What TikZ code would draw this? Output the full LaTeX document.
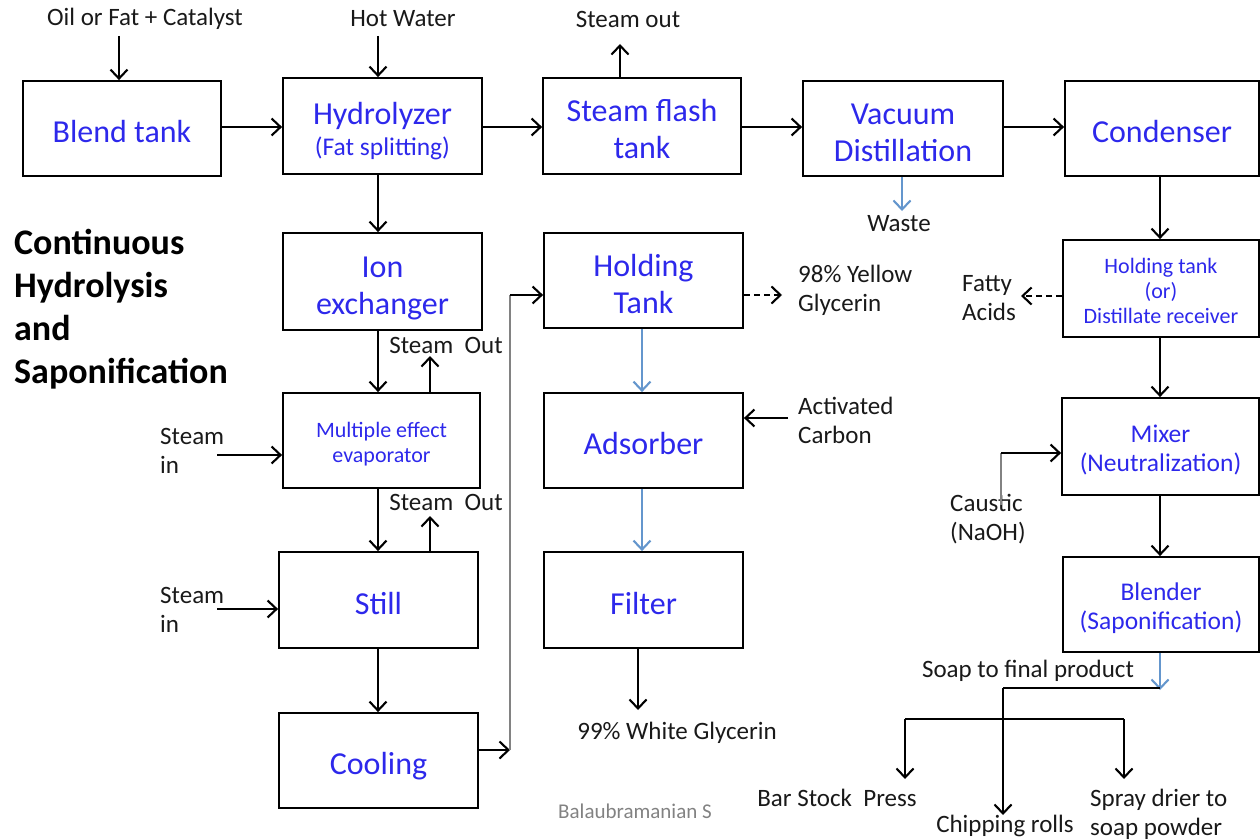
\documentclass[tikz,border=0pt]{standalone}
\usepackage{fontspec}
\setmainfont{Carlito}
\usetikzlibrary{arrows.meta}
\definecolor{bxblue}{RGB}{45,40,235}
\definecolor{lbl}{RGB}{25,25,25}
\definecolor{flowblue}{RGB}{100,150,205}
\definecolor{thingray}{RGB}{130,130,130}
\newcommand{\bxf}{\fontsize{32}{37}\selectfont}
\newcommand{\bxs}{\fontsize{22}{25}\selectfont}
\newcommand{\bxm}{\fontsize{25.5}{29}\selectfont}
\newcommand{\lbf}{\fontsize{25}{29}\selectfont}
\newcommand{\bt}[2][-7pt]{\raisebox{#1}[\height][\depth]{\begin{tabular}{@{}c@{}}#2\end{tabular}}}
\tikzset{
  box/.style={draw, line width=1.8pt, inner sep=0pt, text=bxblue, font=\bxf},
  lab/.style={inner sep=0pt, text=lbl, font=\lbf},
  labl/.style={lab, align=left, anchor=west},
  arr/.style={line width=2.1pt, -{Straight Barb[length=9pt,width=17pt]}},
  barr/.style={line width=2.1pt, draw=flowblue, -{Straight Barb[length=9pt,width=17pt]}},
  darr/.style={arr, dashed, dash pattern=on 6pt off 4pt},
  gline/.style={line width=1.5pt, draw=thingray}
}
\begin{document}
\begin{tikzpicture}[x=1pt,y=-1pt]
\useasboundingbox (0,0) rectangle (1260,840);
% boxes
\node[box, minimum width=198pt, minimum height=95pt] (blend) at (122,128.5) {\bt{Blend tank}};
\node[box, minimum width=199pt, minimum height=96pt] (hydro) at (382.5,126) {\bt{Hydrolyzer\\[-6pt]{\fontsize{25.5}{30}\selectfont (Fat splitting)}}};
\node[box, minimum width=198pt, minimum height=96pt] (flash) at (642,126) {\bt{Steam flash\\tank}};
\node[box, minimum width=200pt, minimum height=95pt] (vac) at (903,128.5) {\bt{Vacuum\\Distillation}};
\node[box, minimum width=194pt, minimum height=95pt] (cond) at (1162,128.5) {\bt{Condenser}};
\node[box, minimum width=199pt, minimum height=97pt] (ion) at (382.5,281.5) {\bt{Ion\\exchanger}};
\node[box, minimum width=199pt, minimum height=95pt] (hold) at (643.5,280.5) {\bt{Holding\\Tank}};
\node[box, minimum width=196pt, minimum height=97pt, font=\bxs] (dist) at (1161,288.5) {\bt[-4.5pt]{Holding tank\\(or)\\Distillate receiver}};
\node[box, minimum width=197pt, minimum height=95pt, font=\bxs] (mee) at (381.5,440.5) {\bt[-4.5pt]{Multiple effect\\evaporator}};
\node[box, minimum width=199pt, minimum height=95pt] (ads) at (643.5,440.5) {\bt{Adsorber}};
\node[box, minimum width=197pt, minimum height=97pt, font=\bxm] (mix) at (1160.5,446.5) {\bt[-5pt]{Mixer\\(Neutralization)}};
\node[box, minimum width=199pt, minimum height=96pt] (still) at (378.5,600) {\bt{Still}};
\node[box, minimum width=199pt, minimum height=96pt] (filter) at (643.5,600) {\bt{Filter}};
\node[box, minimum width=196pt, minimum height=95pt, font=\bxm] (blender) at (1161,604.5) {\bt[-5pt]{Blender\\(Saponification)}};
\node[box, minimum width=199pt, minimum height=95pt] (cool) at (378.5,760.5) {\bt{Cooling}};
% labels
\node[lab] (oil) at (145,19) {Oil or Fat + Catalyst};
\node[lab] (hot) at (403,19) {Hot Water};
\node[lab] (sout) at (628,19) {Steam out};
\node[lab] (waste) at (899,224) {Waste};
\node[lab] (so1) at (446,345) {Steam\ \ Out};
\node[lab] (so2) at (446,502) {Steam\ \ Out};
\node[labl] (si1) at (160,451) {Steam\\in};
\node[labl] (si2) at (160,610) {Steam\\in};
\node[labl] (yel) at (798,290) {98\% Yellow\\Glycerin};
\node[labl] (carb) at (798,420) {Activated\\Carbon};
\node[lab] (white) at (677,733) {99\% White Glycerin};
\node[inner sep=0pt, text=thingray, font=\fontsize{21}{24}\selectfont] (auth) at (635,811) {Balaubramanian S};
\node[labl] (fatty) at (962,298) {Fatty\\Acids};
\node[labl] (caus) at (950,519) {Caustic\\(NaOH)};
\node[lab] (soap) at (1028,671) {Soap to final product};
\node[lab] (bar) at (837,798) {Bar Stock\ \ Press};
\node[lab] (chip) at (1005,826) {Chipping rolls};
\node[labl] (spray) at (1090,814) {Spray drier to\\soap powder};
\node[inner sep=0pt, align=left, anchor=west, text=black, font=\fontsize{36}{43}\selectfont\bfseries] (title) at (14,309.5) {Continuous\\Hydrolysis\\and\\Saponification};
% coordinates
\coordinate (oilA) at (119,36);
\coordinate (hotA) at (378,36);
\coordinate (soA) at (620,44);
\coordinate (wA) at (902,211);
\coordinate (so1A) at (430,356);
\coordinate (so2A) at (430,516);
\coordinate (si1A) at (217,455);
\coordinate (si2A) at (217,609);
\coordinate (cvA) at (510,750);
\coordinate (cvB) at (510,295);
\coordinate (yelA) at (782,295);
\coordinate (carbA) at (788,418);
\coordinate (whA) at (638,710);
\coordinate (fatA) at (1021,296);
\coordinate (cauA) at (1001,505);
\coordinate (cauB) at (1001,453);
\coordinate (bl1) at (1160,690);
\coordinate (bl2) at (1003,688);
\coordinate (chA) at (1003,815);
\coordinate (brL) at (905,719);
\coordinate (brR) at (1124,719);
\coordinate (barA) at (905,779);
\coordinate (spA) at (1124,779);
% connectors
\draw[arr] (oilA) -- (oilA |- blend.north);
\draw[arr] (hotA) -- (hotA |- hydro.north);
\draw[arr] (blend.east |- 0,127) -- (hydro.west |- 0,127);
\draw[arr] (hydro.east |- 0,127) -- (flash.west |- 0,127);
\draw[arr] (flash.east |- 0,127) -- (vac.west |- 0,127);
\draw[arr] (vac.east |- 0,127) -- (cond.west |- 0,127);
\draw[arr] (soA |- flash.north) -- (soA);
\draw[barr] (wA |- vac.south) -- (wA);
\draw[arr] (cond.south -| 1160,0) -- (dist.north -| 1160,0);
\draw[arr] (hydro.south -| 378,0) -- (ion.north -| 378,0);
\draw[arr] (ion.south -| 378,0) -- (mee.north -| 378,0);
\draw[arr] (so1A |- mee.north) -- (so1A);
\draw[arr] (mee.south -| 378,0) -- (still.north -| 378,0);
\draw[arr] (so2A |- still.north) -- (so2A);
\draw[arr] (si1A) -- (si1A -| mee.west);
\draw[arr] (si2A) -- (si2A -| still.west);
\draw[arr] (still.south -| 378,0) -- (cool.north -| 378,0);
\draw[arr] (cvA -| cool.east) -- (cvA);
\draw[gline] (cvA) -- (cvB);
\draw[arr] (cvB) -- (cvB -| hold.west);
\draw[darr] (yelA -| hold.east) -- (yelA);
\draw[barr] (hold.south -| 642,0) -- (ads.north -| 642,0);
\draw[arr] (carbA) -- (carbA -| ads.east);
\draw[barr] (ads.south -| 642,0) -- (filter.north -| 642,0);
\draw[arr] (whA |- filter.south) -- (whA);
\draw[darr] (fatA -| dist.west) -- (fatA);
\draw[arr] (dist.south -| 1160,0) -- (mix.north -| 1160,0);
\draw[gline] (cauA) -- (cauB);
\draw[arr] (cauB) -- (cauB -| mix.west);
\draw[arr] (mix.south -| 1160,0) -- (blender.north -| 1160,0);
\draw[barr] (blender.south -| bl1) -- (bl1);
\draw[line width=1.5pt] (1160,688) -- (bl2);
\draw[arr] (bl2) -- (chA);
\draw[line width=1.8pt] (brL) -- (brR);
\draw[arr] (brL) -- (barA);
\draw[arr] (brR) -- (spA);
\end{tikzpicture}
\end{document}
